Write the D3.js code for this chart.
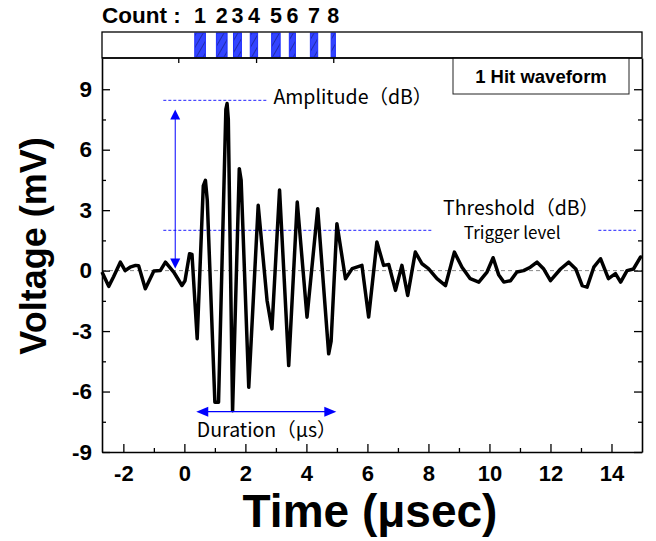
<!DOCTYPE html>
<html lang="en">
  <head>
    <meta charset="UTF-8" />
    <title>1 Hit waveform</title>
    <script src="https://d3js.org/d3.v7.min.js"></script>
    <style>
      body { margin: 0; background: #fff; }
      .bold { font-family: "Liberation Sans", Arial, sans-serif; font-weight: bold; }
      .note { font-family: "Noto Sans CJK JP", "Noto Sans", sans-serif; }
    </style>
  </head>
  <body>
    <div id="chart"></div>
  <script>
    // waveform (time in usec, voltage in mV)
    const waveT = [-2.7, -2.48, -2.32, -2.1, -1.94, -1.78, -1.6, -1.5, -1.28, -1.0, -0.79, -0.62, -0.35, -0.08, 0.02, 0.17, 0.25, 0.42, 0.62, 0.69, 0.75, 1.0, 1.12, 1.36, 1.4, 1.44, 1.58, 1.8, 1.86, 2.11, 2.42, 2.71, 2.87, 3.12, 3.42, 3.7, 4.02, 4.37, 4.73, 4.81, 5.0, 5.28, 5.5, 5.82, 6.04, 6.31, 6.53, 6.7, 6.92, 7.13, 7.32, 7.57, 7.79, 8.0, 8.28, 8.56, 8.85, 9.1, 9.37, 9.65, 9.92, 10.12, 10.3, 10.47, 10.69, 10.9, 11.12, 11.34, 11.56, 11.78, 12.0, 12.33, 12.6, 12.83, 13.04, 13.2, 13.42, 13.64, 13.9, 14.13, 14.3, 14.51, 14.72, 14.95, 15.0];
    const waveV = [-0.07, -0.78, -0.3, 0.42, 0.0, 0.17, 0.26, 0.24, -0.9, -0.02, 0.0, 0.42, -0.07, -0.74, -0.5, 0.84, 0.8, -3.38, 4.2, 4.48, 3.5, -6.53, -6.53, 8.0, 8.29, 7.5, -6.95, 5.06, 4.5, -5.79, 3.24, -1.48, -2.89, 4.0, -4.71, 3.4, -2.31, 3.07, -4.13, -3.5, 2.33, -0.4, 0.1, 0.26, -2.3, 1.42, 0.26, 0.3, -0.98, 0.26, -1.23, 0.92, 0.34, 0.1, -0.4, -0.74, 0.92, 0.17, -0.4, -0.57, -0.07, 0.64, -0.2, -0.57, -0.5, -0.07, 0.0, 0.17, 0.42, 0.08, -0.5, 0.08, 0.42, 0.08, -0.74, -0.82, 0.17, 0.59, -0.4, -0.15, -0.57, 0.0, 0.08, 0.67, 0.7];

    // counts above threshold (start / end time of each hatched bar)
    const countStart = [0.34, 1.05, 1.61, 2.16, 2.86, 3.44, 4.13, 4.81];
    const countEnd = [0.69, 1.4, 1.87, 2.4, 3.14, 3.64, 4.37, 4.95];
    const countLabels = ["1", "2", "3", "4", "5", "6", "7", "8"];
    const countTicks = [-0.2, 2.35, 4.88];

    const xTicks = [-2, 0, 2, 4, 6, 8, 10, 12, 14];
    const xMinor = [-1, 1, 3, 5, 7, 9, 11, 13];
    const yTicks = [-9, -6, -3, 0, 3, 6, 9];
    const yMinor = [-7.5, -4.5, -1.5, 1.5, 4.5, 7.5];

    const amplitude = 8.45;
    const threshold = 2;

    const W = 656, H = 541;
    const margin = { top: 58, right: 14, bottom: 89, left: 102 };
    const countTop = 32;

    const svg = d3.select("#chart").append("svg")
      .attr("width", W).attr("height", H);

    const x = d3.scaleLinear().domain([-2.7, 15]).range([margin.left, W - margin.right]);
    const y = d3.scaleLinear().domain([-9, 10.55]).range([H - margin.bottom, margin.top]);

    // hatch pattern for count bars
    const pat = svg.append("defs").append("pattern")
      .attr("id", "hatch").attr("patternUnits", "userSpaceOnUse")
      .attr("width", 6).attr("height", 6)
      .attr("patternTransform", "rotate(30)");
    pat.append("rect").attr("width", 6).attr("height", 6).attr("fill", "#3344ff");
    pat.append("line").attr("x1", 0).attr("y1", 0).attr("x2", 0).attr("y2", 6)
      .attr("stroke", "#16208a").attr("stroke-width", 1.4);

    // ---- count panel ----
    svg.append("text").attr("class", "bold")
      .attr("x", margin.left).attr("y", 23)
      .attr("font-size", 22.5).text("Count :");

    svg.selectAll(".cbar").data(countStart).join("rect")
      .attr("x", (d) => x(d))
      .attr("y", countTop + 1)
      .attr("width", (d, i) => x(countEnd[i]) - x(d))
      .attr("height", margin.top - countTop - 2)
      .attr("fill", "url(#hatch)")
      .attr("stroke", "#1f2fff").attr("stroke-width", 1);

    svg.selectAll(".clab").data(countLabels).join("text")
      .attr("class", "bold")
      .attr("x", (d, i) => x((countStart[i] + countEnd[i]) / 2))
      .attr("y", 23).attr("font-size", 21.5)
      .attr("text-anchor", "middle").text((d) => d);

    svg.append("rect")
      .attr("x", margin.left).attr("y", countTop)
      .attr("width", x.range()[1] - margin.left).attr("height", margin.top - countTop)
      .attr("fill", "none").attr("stroke", "#000").attr("stroke-width", 1.3);

    svg.append("g")
      .attr("transform", `translate(0,${margin.top})`)
      .call(d3.axisBottom(x).tickValues(countTicks).tickSize(5).tickFormat(""))
      .call((g) => g.select(".domain").remove());

    // ---- main plot ----
    const plot = svg.append("g");

    // zero line
    plot.append("line")
      .attr("x1", x.range()[0]).attr("x2", x.range()[1])
      .attr("y1", y(0)).attr("y2", y(0))
      .attr("stroke", "#888").attr("stroke-width", 1)
      .attr("stroke-dasharray", "4,3");

    // amplitude & threshold dashed lines
    const blue = "#2020ff";
    plot.append("line")
      .attr("x1", x(-0.69)).attr("x2", x(2.75))
      .attr("y1", y(amplitude)).attr("y2", y(amplitude))
      .attr("stroke", blue).attr("stroke-width", 1).attr("stroke-dasharray", "3,2");
    plot.append("line")
      .attr("x1", x(-0.69)).attr("x2", x(8.15))
      .attr("y1", y(threshold)).attr("y2", y(threshold))
      .attr("stroke", blue).attr("stroke-width", 1).attr("stroke-dasharray", "3,2");
    plot.append("line")
      .attr("x1", x(13.57)).attr("x2", x(14.8))
      .attr("y1", y(threshold)).attr("y2", y(threshold))
      .attr("stroke", blue).attr("stroke-width", 1).attr("stroke-dasharray", "3,2");

    // waveform
    const wave = waveT.map((t, i) => [t, waveV[i]]);
    plot.append("path")
      .datum(wave)
      .attr("fill", "none")
      .attr("stroke", "#000")
      .attr("stroke-width", 3.5)
      .attr("stroke-linejoin", "round")
      .attr("d", d3.line().x((d) => x(d[0])).y((d) => y(d[1])));

    // arrows
    const arrowBlue = "#0000ff";
    function arrowHead(px, py, dir) {
      const L = 10, Wd = 5;
      let pts;
      if (dir === "up") pts = [[px, py], [px - Wd, py + L], [px + Wd, py + L]];
      if (dir === "down") pts = [[px, py], [px - Wd, py - L], [px + Wd, py - L]];
      if (dir === "left") pts = [[px, py], [px + L + 2, py - Wd], [px + L + 2, py + Wd]];
      if (dir === "right") pts = [[px, py], [px - L - 2, py - Wd], [px - L - 2, py + Wd]];
      plot.append("polygon").attr("points", pts.map((p) => p.join(",")).join(" "))
        .attr("fill", arrowBlue);
    }
    plot.append("line")
      .attr("x1", x(-0.3)).attr("x2", x(-0.3))
      .attr("y1", y(8.0) + 5).attr("y2", y(0.1) - 5)
      .attr("stroke", arrowBlue).attr("stroke-width", 1);
    arrowHead(x(-0.3), y(8.0), "up");
    arrowHead(x(-0.3), y(0.1), "down");

    plot.append("line")
      .attr("x1", x(0.39) + 5).attr("x2", x(4.98) - 5)
      .attr("y1", y(-7.0)).attr("y2", y(-7.0))
      .attr("stroke", arrowBlue).attr("stroke-width", 1.2);
    arrowHead(x(0.39), y(-7.0), "left");
    arrowHead(x(4.98), y(-7.0), "right");

    // annotation texts
    plot.append("text").attr("class", "note")
      .attr("x", x(2.92)).attr("y", y(8.25)).attr("font-size", 19.5)
      .text("Amplitude（dB）");
    plot.append("text").attr("class", "note")
      .attr("x", x(8.48)).attr("y", y(2.75)).attr("font-size", 19.5)
      .text("Threshold（dB）");
    plot.append("text").attr("class", "note")
      .attr("x", x(9.16)).attr("y", y(1.57)).attr("font-size", 17)
      .text("Trigger level");
    plot.append("text").attr("class", "note")
      .attr("x", x(2.7)).attr("y", y(-8.28)).attr("font-size", 19.5)
      .attr("text-anchor", "middle")
      .text("Duration（μs）");

    // legend box
    const legX = 453, legY = margin.top, legW = 176, legH = 36;
    svg.append("rect")
      .attr("x", legX).attr("y", legY).attr("width", legW).attr("height", legH)
      .attr("fill", "#fff").attr("stroke", "#222").attr("stroke-width", 1);
    svg.append("text").attr("class", "bold")
      .attr("x", legX + legW / 2).attr("y", legY + 25)
      .attr("text-anchor", "middle").attr("font-size", 18.5)
      .text("1 Hit waveform");

    // axes
    const bottom = H - margin.bottom;
    const fmt = (d) => String(d);
    const xAxis = svg.append("g")
      .attr("transform", `translate(0,${bottom})`)
      .call(d3.axisBottom(x).tickValues(xTicks).tickSize(-8).tickPadding(13).tickSizeOuter(0).tickFormat(fmt));
    xAxis.selectAll("text").attr("font-size", 22).attr("font-family", "Liberation Sans, Arial").attr("font-weight", "bold");
    svg.append("g").attr("transform", `translate(0,${bottom})`)
      .call(d3.axisBottom(x).tickValues(xMinor).tickSize(-4).tickFormat("").tickSizeOuter(0))
      .call((g) => g.select(".domain").remove());

    const yAxis = svg.append("g")
      .attr("transform", `translate(${margin.left},0)`)
      .call(d3.axisLeft(y).tickValues(yTicks).tickSize(-8).tickPadding(10).tickSizeOuter(0).tickFormat(fmt));
    yAxis.selectAll("text").attr("font-size", 22.5).attr("font-family", "Liberation Sans, Arial").attr("font-weight", "bold");
    svg.append("g").attr("transform", `translate(${margin.left},0)`)
      .call(d3.axisLeft(y).tickValues(yMinor).tickSize(-4).tickFormat("").tickSizeOuter(0))
      .call((g) => g.select(".domain").remove());

    // right mirror ticks
    svg.append("g").attr("transform", `translate(${x.range()[1]},0)`)
      .call(d3.axisRight(y).tickValues(yTicks).tickSize(-8).tickFormat("").tickSizeOuter(0));
    svg.append("g").attr("transform", `translate(${x.range()[1]},0)`)
      .call(d3.axisRight(y).tickValues(yMinor).tickSize(-4).tickFormat("").tickSizeOuter(0))
      .call((g) => g.select(".domain").remove());

    // top border
    svg.append("line")
      .attr("x1", margin.left).attr("x2", x.range()[1])
      .attr("y1", margin.top).attr("y2", margin.top)
      .attr("stroke", "#000").attr("stroke-width", 1.3);

    svg.selectAll(".domain").attr("stroke-width", 1.6);
    svg.selectAll(".tick line").attr("stroke-width", 1.3);

    // axis titles
    svg.append("text").attr("class", "bold")
      .attr("x", 370).attr("y", 527)
      .attr("text-anchor", "middle").attr("font-size", 46)
      .text("Time (μsec)");
    svg.append("text").attr("class", "bold")
      .attr("transform", `translate(46,${246}) rotate(-90)`)
      .attr("text-anchor", "middle").attr("font-size", 36)
      .text("Voltage (mV)");
  </script>
  </body>
</html>
